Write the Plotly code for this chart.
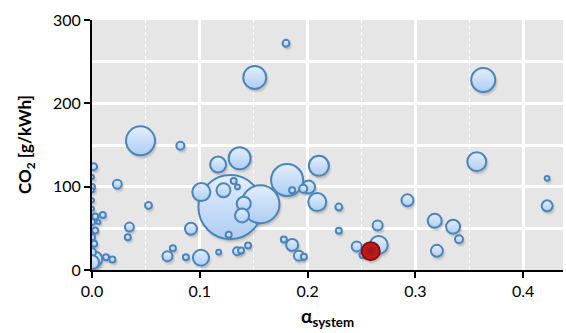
import plotly.graph_objects as go

# alpha_system, CO2 [g/kWh], bubble value (area-proportional)
alpha = [0.1284, 0.1563, 0.181, 0.045, 0.363, 0.151, 0.137, 0.2105, 0.357, 0.1014, 0.209, 0.266,
         0.117, 0.1011, 0.002, 0.318, 0.335, 0.122, 0.1408, 0.1392, 0.201, 0.320, 0.2927, 0.0918,
         0.1857, 0.4223, 0.265, 0.2456, 0.192, 0.070, 0.0235, 0.0347, 0.082, 0.3405, 0.196, 0.1346,
         0.0015, 0.180, 0.229, 0.0524, 0.229, 0.1315, 0.1268, 0.1448, 0.1383, 0.0871, 0.075, 0.178,
         0.1857, 0.1966, 0.251, 0.0332, 0.010, 0.013, 0.0189, 0.135, 0.1175, 0.4223, 0.006,
         0.0, 0.0, 0.0, 0.0, 0.0, 0.003, 0.0, 0.003, 0.0, 0.002, 0.0, 0.0]
co2 = [75.5, 79, 108, 155, 228, 231, 134, 125, 130, 93.5, 81.5, 30,
       126.5, 14.7, 13, 59, 52, 95.6, 79.6, 65.5, 99.6, 23, 83.6, 49.5,
       30, 77, 53.3, 28.3, 17, 16.6, 103, 51.5, 149, 37, 97.6, 22.6,
       124, 272, 75.5, 77.5, 47, 106.8, 42.3, 29.5, 23.4, 15.4, 26, 36.5,
       95.6, 16, 18, 39.4, 66, 15.4, 12.5, 99.6, 21.4, 110, 57.5,
       111.6, 99.6, 95.6, 83.6, 73.6, 64.3, 57.5, 47.5, 39.4, 31.5, 21.4, 9.4]
bubble = [1024, 361, 256, 210, 144, 132, 121, 100, 90, 81, 81, 81,
          64, 64, 64, 49, 49, 49, 49, 49, 42, 36, 36, 36,
          36, 30, 25, 25, 25, 25, 20, 20, 16, 16, 16, 16,
          12, 12, 12, 12, 9, 9, 9, 9, 9, 9, 9, 9,
          9, 9, 9, 9, 9, 9, 9, 6, 6, 6, 4,
          4, 9, 4, 4, 4, 9, 9, 9, 9, 9, 16, 49]

# highlighted system
hl_alpha = [0.2586]
hl_co2 = [22.6]
hl_bubble = [81]

x_ticks = [0.0, 0.1, 0.2, 0.3, 0.4]
y_ticks = [0, 100, 200, 300]

X_RANGE = [0, 0.437]
Y_RANGE = [0, 300]
MARGIN = dict(l=92, r=3, t=20, b=63)
W, H = 566, 333

# soft drop shadow, offset by a couple of pixels converted to data units
plot_w = W - MARGIN["l"] - MARGIN["r"]
plot_h = H - MARGIN["t"] - MARGIN["b"]
dx = 1.5 * (X_RANGE[1] - X_RANGE[0]) / plot_w
dy = 2.5 * (Y_RANGE[1] - Y_RANGE[0]) / plot_h

fig = go.Figure()
fig.add_trace(go.Scatter(
    x=[a + dx for a in alpha + hl_alpha], y=[c - dy for c in co2 + hl_co2], mode="markers",
    marker=dict(size=bubble + hl_bubble, sizemode="area", sizeref=0.5, opacity=1,
                color="rgba(0,0,0,0.10)", line=dict(color="rgba(0,0,0,0.06)", width=3)),
    showlegend=False, hoverinfo="skip"))
fig.add_trace(go.Scatter(
    x=alpha, y=co2, mode="markers",
    marker=dict(size=bubble, sizemode="area", sizeref=0.5, opacity=1,
                color="#e3eefc",
                gradient=dict(type="vertical", color="#aecdf2"),
                line=dict(color="#4a84bd", width=2)),
    showlegend=False, hoverinfo="x+y"))
fig.add_trace(go.Scatter(
    x=hl_alpha, y=hl_co2, mode="markers",
    marker=dict(size=hl_bubble, sizemode="area", sizeref=0.5, opacity=1,
                color="#c42222",
                gradient=dict(type="radial", color="#a01212"),
                line=dict(color="#8a0c0c", width=2)),
    showlegend=False, hoverinfo="x+y"))

font = "Lato, 'Open Sans', sans-serif"
fig.update_layout(
    width=W, height=H,
    margin=MARGIN,
    paper_bgcolor="white", plot_bgcolor="#e6e6e6",
    font=dict(family=font, size=16, color="black"),
    xaxis=dict(range=X_RANGE, tickvals=x_ticks, tickformat=".1f", automargin=False,
               showline=True, linecolor="black", linewidth=2,
               ticks="outside", ticklen=6, tickwidth=2, tickcolor="black",
               showgrid=True, gridcolor="white", gridwidth=2.5, zeroline=False,
               minor=dict(dtick=0.05, showgrid=True, gridcolor="white", gridwidth=1, griddash="dot")),
    yaxis=dict(range=Y_RANGE, tickvals=y_ticks, automargin=False,
               showline=True, linecolor="black", linewidth=2,
               ticks="outside", ticklen=6, tickwidth=2, tickcolor="black",
               showgrid=True, gridcolor="white", gridwidth=1, griddash="dot", zeroline=False,
               minor=dict(dtick=50, showgrid=True, gridcolor="white", gridwidth=2.5, griddash="solid")),
    annotations=[
        dict(text="<b>α<sub>system</sub></b>", xref="paper", yref="paper", x=0.5, y=0,
             xanchor="center", yanchor="middle", yshift=-47, showarrow=False,
             font=dict(size=19)),
        dict(text="<b>CO<sub>2</sub> [g/kWh]</b>", xref="paper", yref="paper", x=0, y=0.5,
             xanchor="center", yanchor="middle", xshift=-66, textangle=-90, showarrow=False,
             font=dict(size=17)),
    ],
)

fig.write_html("out.html", config={"displayModeBar": False},
               post_script="document.body.style.margin='0';document.body.style.overflow='hidden';")
